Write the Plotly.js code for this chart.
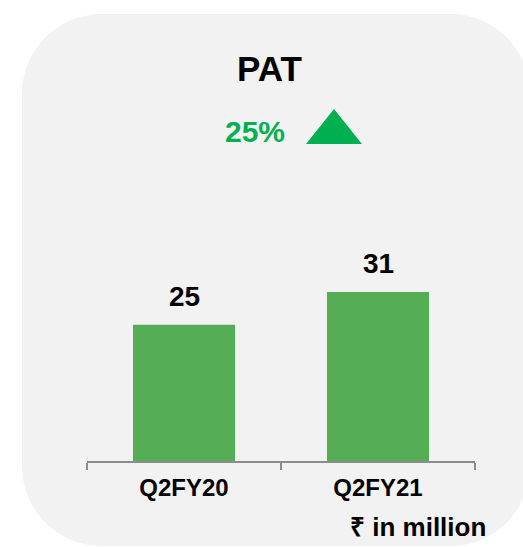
<!DOCTYPE html>
<html><head><meta charset="utf-8">
<script src="https://cdn.plot.ly/plotly-3.0.1.min.js"></script>
<style>html,body{margin:0;padding:0;background:#fff;}#chart{width:523px;height:547px;}</style>
</head><body><div id="chart"></div>
<script>
const categories = ['Q2FY20', 'Q2FY21'];
const patValues = [25, 31];
const titleText = 'PAT';
const growthText = '25%';
const unitText = '₹ in million';

const FONT = 'Liberation Sans, Arial, sans-serif';
const W = 523, H = 547, M = {l: 87, r: 48, t: 243, b: 86};
const PW = W - M.l - M.r, PH = H - M.t - M.b;
const px = x => (x - M.l) / PW;
const py = y => (H - M.b - y) / PH;
function P(x, y) { return px(x).toFixed(5) + ',' + py(y).toFixed(5); }
function roundRect(x0, y0, x1, y1, r) {
  const k = 0.5523 * r;
  return 'M' + P(x0 + r, y0) + ' L' + P(x1 - r, y0) +
    ' C' + P(x1 - r + k, y0) + ' ' + P(x1, y0 + r - k) + ' ' + P(x1, y0 + r) +
    ' L' + P(x1, y1 - r) +
    ' C' + P(x1, y1 - r + k) + ' ' + P(x1 - r + k, y1) + ' ' + P(x1 - r, y1) +
    ' L' + P(x0 + r, y1) +
    ' C' + P(x0 + r - k, y1) + ' ' + P(x0, y1 - r + k) + ' ' + P(x0, y1 - r) +
    ' L' + P(x0, y0 + r) +
    ' C' + P(x0, y0 + r - k) + ' ' + P(x0 + r - k, y0) + ' ' + P(x0 + r, y0) + ' Z';
}

const trace = {
  type: 'bar', x: categories, y: patValues,
  marker: {color: '#55ad55'}, hoverinfo: 'skip'
};

const annotations = [
  {text: titleText, xref: 'paper', yref: 'paper', x: px(269), y: py(69),
   xanchor: 'center', yanchor: 'middle', showarrow: false,
   font: {family: FONT, size: 35, color: '#000', weight: 'bold'}},
  {text: growthText, xref: 'paper', yref: 'paper', x: px(255), y: py(131),
   xanchor: 'center', yanchor: 'middle', showarrow: false,
   font: {family: FONT, size: 30, color: '#00b050', weight: 'bold'}},
  {text: unitText, xref: 'paper', yref: 'paper', x: px(488), y: py(527),
   xanchor: 'right', yanchor: 'middle', showarrow: false,
   font: {family: FONT, size: 26, color: '#000', weight: 'bold'}}
];
categories.forEach((c, i) => {
  annotations.push({text: String(patValues[i]), xref: 'x', yref: 'y', x: c, y: patValues[i],
    xanchor: 'center', yanchor: 'bottom', yshift: 11, showarrow: false,
    font: {family: FONT, size: 28, color: '#000', weight: 'bold'}});
});

const layout = {
  width: W, height: H,
  margin: M,
  paper_bgcolor: '#ffffff', plot_bgcolor: 'rgba(0,0,0,0)',
  showlegend: false, bargap: 0.474,
  xaxis: {type: 'category', range: [-0.5, 1.5], tickson: 'boundaries',
    ticks: 'outside', ticklen: 7, tickwidth: 1.5, tickcolor: '#8c8c8c',
    showline: true, linecolor: '#8c8c8c', linewidth: 1.5,
    showgrid: false, zeroline: false, fixedrange: true, ticklabelstandoff: 5,
    tickfont: {family: FONT, size: 24, color: '#000', weight: 'bold'}},
  yaxis: {range: [0, 40], visible: false, fixedrange: true},
  annotations: annotations,
  shapes: [
    {type: 'path', xref: 'paper', yref: 'paper', layer: 'below',
     path: roundRect(22, 14, 530, 546, 80), fillcolor: '#f2f2f2', line: {width: 0}},
    {type: 'path', xref: 'paper', yref: 'paper',
     path: 'M' + P(306, 144) + ' L' + P(362, 144) + ' L' + P(334, 109) + ' Z',
     fillcolor: '#00b050', line: {width: 0}}
  ]
};

Plotly.newPlot('chart', [trace], layout, {displayModeBar: false, staticPlot: true});
</script></body></html>
